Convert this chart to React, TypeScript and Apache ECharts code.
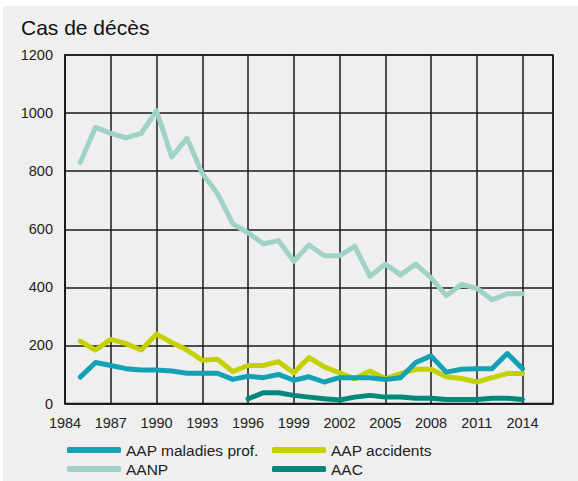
import React, { useEffect, useRef } from "react";
import * as echarts from "echarts";

const years = [
  1985, 1986, 1987, 1988, 1989, 1990, 1991, 1992, 1993, 1994, 1995, 1996, 1997, 1998, 1999,
  2000, 2001, 2002, 2003, 2004, 2005, 2006, 2007, 2008, 2009, 2010, 2011, 2012, 2013, 2014,
];
const aapMaladies = [
  91, 141, 131, 120, 115, 115, 112, 104, 104, 104, 83, 94, 89, 100, 80,
  92, 74, 89, 89, 89, 83, 89, 141, 164, 108, 118, 120, 120, 172, 120,
];
const aapAccidents = [
  215, 184, 221, 206, 184, 239, 210, 184, 149, 152, 110, 131, 131, 144, 106,
  158, 126, 106, 85, 112, 85, 103, 118, 118, 92, 86, 74, 89, 103, 103,
];
const aanp = [
  830, 951, 930, 915, 930, 1008, 849, 913, 792, 723, 619, 588, 550, 561, 490,
  546, 509, 509, 541, 438, 480, 443, 480, 433, 371, 410, 397, 357, 378, 378,
];
const aacYears = [1996, 1997, 1998, 1999, 2000, 2001, 2002, 2003, 2004, 2005, 2006, 2007, 2008, 2009, 2010, 2011, 2012, 2013, 2014];
const aac = [16, 37, 37, 28, 22, 16, 12, 22, 28, 22, 22, 18, 18, 14, 14, 14, 18, 18, 14];

const xTicks = { min: 1984, max: 2016, interval: 3 };
const yTicks = { min: 0, max: 1200, interval: 200 };

const names = ["AAP maladies prof.", "AAP accidents", "AANP", "AAC"];
const colors = ["#14a0b5", "#c3d100", "#a0d2c7", "#00897b"];

const FONT = "'Liberation Sans', Arial, sans-serif";

export default function App() {
  const ref = useRef<HTMLDivElement>(null);
  useEffect(() => {
    if (!ref.current) return;
    const chart = echarts.init(ref.current, undefined, { renderer: "svg" });
    const pairs = (xs: number[], ys: number[]) => xs.map((x, i) => [x, ys[i]]);
    const lineSeries = (name: string, color: string, data: number[][], z: number) => ({
      name,
      type: "line",
      data,
      symbol: "none",
      z,
      lineStyle: { color, width: 5, cap: "round", join: "round" },
      itemStyle: { color },
    });
    const legendAt = (name: string, left: number, top: number) => ({
      data: [name],
      left,
      top,
      padding: 0,
      icon: "roundRect",
      itemWidth: 54,
      itemHeight: 6,
      textStyle: { fontFamily: FONT, fontSize: 15.5, color: "#222" },
    });
    chart.setOption({
      animation: false,
      textStyle: { fontFamily: FONT },
      graphic: [
        {
          type: "rect",
          z: -10,
          silent: true,
          shape: { x: 3, y: 6, width: 578, height: 481 },
          style: { fill: "#efefef" },
        },
        {
          type: "text",
          left: 21,
          top: 17,
          style: { text: "Cas de décès", fontFamily: FONT, fontSize: 21, fontWeight: "normal", fill: "#111" },
        },
      ],
      grid: {
        left: 65,
        right: 25,
        top: 55,
        bottom: 77.5,
        show: true,
        borderColor: "#1a1a1a",
        borderWidth: 1.5,
        backgroundColor: "transparent",
      },
      legend: [
        legendAt(names[0], 67, 442),
        legendAt(names[1], 272, 442),
        legendAt(names[2], 67, 461),
        legendAt(names[3], 272, 461),
      ],
      xAxis: {
        type: "value",
        min: xTicks.min,
        max: xTicks.max,
        interval: xTicks.interval,
        axisLine: { show: true, lineStyle: { color: "#1a1a1a", width: 1.5 } },
        axisTick: { show: false },
        axisLabel: {
          showMaxLabel: false,
          margin: 12,
          fontSize: 14.5,
          color: "#222",
          fontFamily: FONT,
          formatter: (v: number) => (v === 2016 ? "" : String(v)),
        },
        splitLine: { show: true, lineStyle: { color: "#1a1a1a", width: 1.5 } },
      },
      yAxis: {
        type: "value",
        min: yTicks.min,
        max: yTicks.max,
        interval: yTicks.interval,
        axisLine: { show: true, lineStyle: { color: "#1a1a1a", width: 1.5 } },
        axisTick: { show: false },
        axisLabel: {
          margin: 12,
          fontSize: 14.5,
          color: "#222",
          fontFamily: FONT,
          formatter: (v: number) => String(v),
        },
        splitLine: { show: true, lineStyle: { color: "#1a1a1a", width: 1.5 } },
      },
      series: [
        lineSeries(names[2], colors[2], pairs(years, aanp), 2),
        lineSeries(names[3], colors[3], pairs(aacYears, aac), 3),
        lineSeries(names[1], colors[1], pairs(years, aapAccidents), 4),
        lineSeries(names[0], colors[0], pairs(years, aapMaladies), 5),
      ],
    });
    return () => chart.dispose();
  }, []);
  return (
    <div style={{ position: "fixed", left: 0, top: 0, width: 578, height: 481, background: "#fff" }}>
      <div ref={ref} style={{ width: 578, height: 481 }} />
    </div>
  );
}
